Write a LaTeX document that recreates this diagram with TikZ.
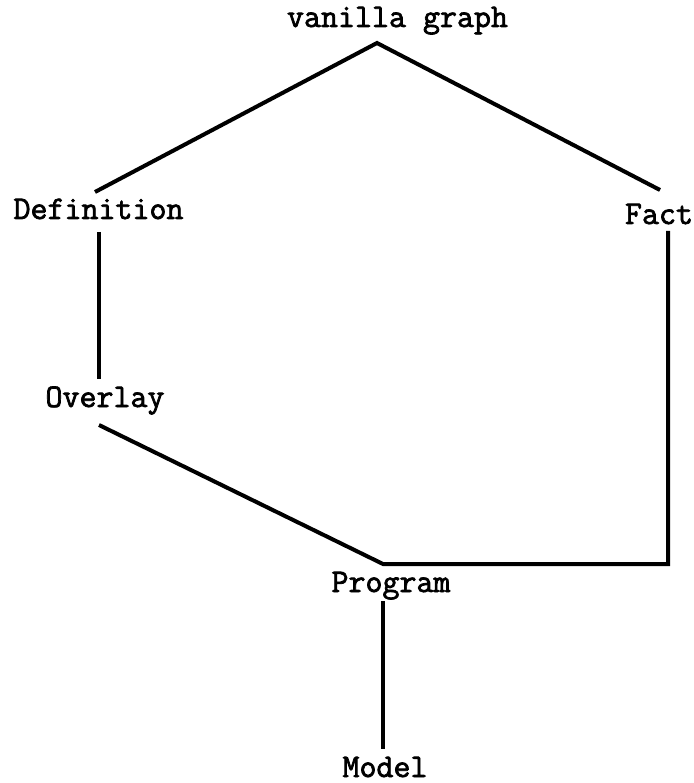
\documentclass[tikz,border=0pt]{standalone}
\usepackage{fontspec}
\newfontfamily\labelfont[FakeBold=2.2]{Latin Modern Mono}
\begin{document}
\begin{tikzpicture}[x=1pt,y=-1pt,
  lbl/.style={anchor=base,inner sep=0pt,font=\labelfont\fontsize{33}{35}\selectfont},
  edge/.style={line width=4pt,black,line join=miter}]
\useasboundingbox (0,0) rectangle (693,783);

% labels
\node[lbl] (vanilla) at (397.5,27) {vanilla graph};
\node[lbl] (definition) at (98.5,219) {Definition};
\node[lbl] (fact) at (659,224) {Fact};
\node[lbl] (overlay) at (105,407) {Overlay};
\node[lbl] (program) at (391,592) {Program};
\node[lbl] (model) at (385,777) {Model};

% connector ends and bends
\coordinate (vanilla-s) at (377,43);
\coordinate (definition-n) at (95,192);
\coordinate (definition-s) at (99,232);
\coordinate (fact-n) at (660,190);
\coordinate (fact-s) at (668,231);
\coordinate (overlay-n) at (99,379);
\coordinate (overlay-s) at (99,425);
\coordinate (program-n) at (383,564);
\coordinate (fact-bend) at (668,564);
\coordinate (program-s) at (383,601);
\coordinate (model-n) at (383,749);

% connectors
\draw[edge] (definition-n) -- (vanilla-s) -- (fact-n);
\draw[edge] (definition-s) -- (overlay-n);
\draw[edge] (overlay-s) -- (program-n) -- (fact-bend) -- (fact-s);
\draw[edge] (program-s) -- (model-n);
\end{tikzpicture}
\end{document}
